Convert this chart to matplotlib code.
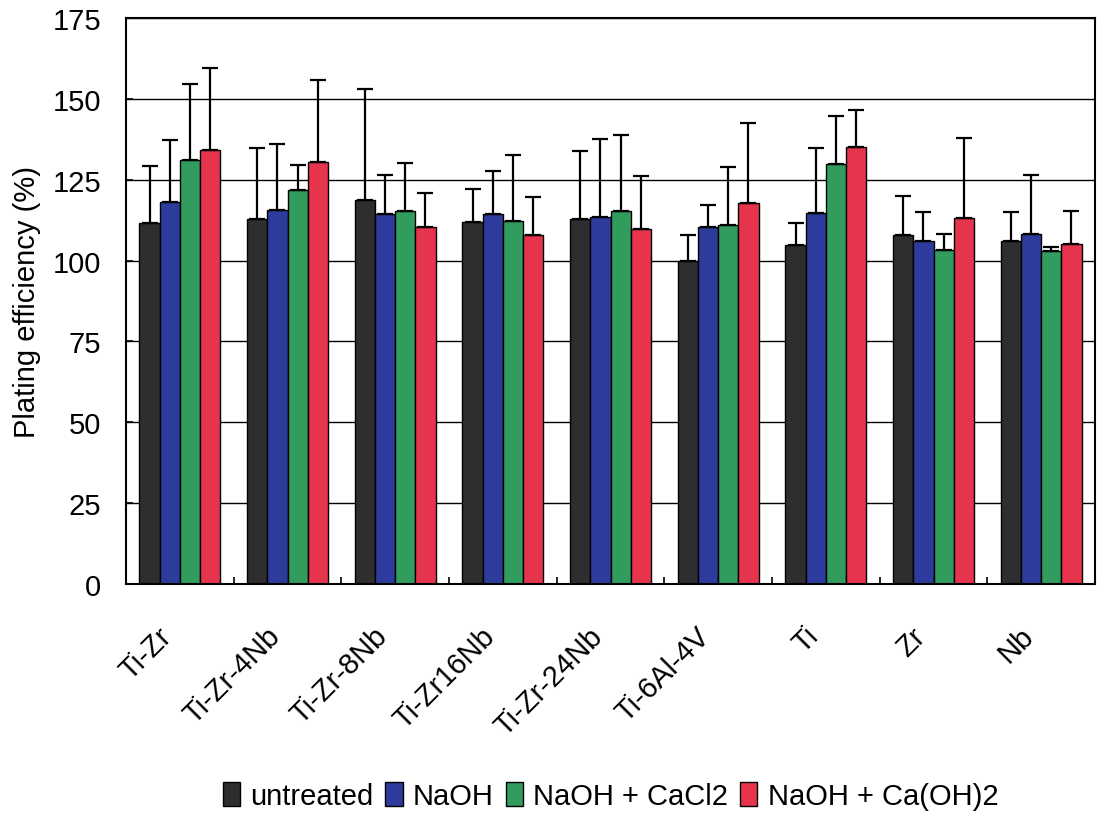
import numpy as np
import matplotlib.pyplot as plt
from matplotlib.transforms import ScaledTranslation

plt.rcParams['font.family'] = ['Liberation Sans', 'DejaVu Sans']

# Datos
alloys = ['Ti-Zr', 'Ti-Zr-4Nb', 'Ti-Zr-8Nb', 'Ti-Zr16Nb', 'Ti-Zr-24Nb',
          'Ti-6Al-4V', 'Ti', 'Zr', 'Nb']
treatments = ['untreated', 'NaOH', 'NaOH + CaCl2', 'NaOH + Ca(OH)2']
colors = ['#2e2e30', '#2d3c9c', '#319c5e', '#e5344c']

# valor medio de cada barra
untreated = [111.5, 112.7, 118.7, 111.8, 113.0, 99.9, 104.7, 107.8, 105.9]
naoh = [118.1, 115.6, 114.3, 114.3, 113.5, 110.3, 114.6, 105.9, 108.2]
naoh_cacl2 = [131.2, 121.8, 115.4, 112.2, 115.2, 110.9, 129.8, 103.3, 103.1]
naoh_caoh2 = [134.3, 130.5, 110.5, 107.9, 109.8, 117.7, 135.0, 113.3, 105.0]

# extremo superior de la barra de error
untreated_top = [129.1, 134.7, 153.2, 122.1, 134.0, 107.8, 111.5, 120.0, 114.9]
naoh_top = [137.2, 135.9, 126.5, 127.7, 137.6, 117.1, 134.9, 114.9, 126.6]
naoh_cacl2_top = [154.6, 129.7, 130.2, 132.6, 138.8, 128.9, 144.8, 108.3, 104.2]
naoh_caoh2_top = [159.5, 155.7, 120.9, 119.7, 126.3, 142.4, 146.6, 137.8, 115.4]

means = [untreated, naoh, naoh_cacl2, naoh_caoh2]
tops = [untreated_top, naoh_top, naoh_cacl2_top, naoh_caoh2_top]

fig = plt.figure(figsize=(10.97, 8.2), dpi=100)
ax = fig.add_axes([126 / 1097, 1 - 585 / 820, (1095 - 126) / 1097, (585 - 19) / 820])

x = np.arange(len(alloys))
width = 0.1875

# Líneas de la cuadrícula detrás de las barras
ax.set_axisbelow(True)
ax.yaxis.grid(True, color='black', linewidth=1.0)

for i, (vals, upper) in enumerate(zip(means, tops)):
    vals = np.array(vals)
    err = np.array(upper) - vals
    pos = x + (i - 1.5) * width
    ax.bar(pos, vals, width, color=colors[i], edgecolor='black', linewidth=1.0,
           label=treatments[i],
           yerr=[np.zeros_like(err), err],
           error_kw=dict(ecolor='black', elinewidth=1.6, capsize=5.5, capthick=1.6))

ax.set_xlim(-0.5, len(alloys) - 0.5)
ax.set_ylim(0, 175)
ax.set_yticks(np.arange(0, 176, 25))

ax.set_xticks(x)
ax.set_xticklabels(alloys, rotation=45, ha='right', va='top', rotation_mode='anchor', fontsize=21)
ax.set_xticks(np.arange(-0.5, len(alloys), 1), minor=True)
ax.tick_params(axis='x', which='major', length=0, pad=27)
ax.tick_params(axis='x', which='minor', direction='in', length=5, width=1.2)
ax.tick_params(axis='y', direction='in', length=5, width=1.2, labelsize=21, pad=18)

# desplazamos las etiquetas un poco a la izquierda
shift = ScaledTranslation(-22 / 100, 0, fig.dpi_scale_trans)
for lab in ax.get_xticklabels():
    lab.set_transform(lab.get_transform() + shift)

for s in ax.spines.values():
    s.set_linewidth(1.5)

ax.set_ylabel('Plating efficiency (%)', fontsize=21, labelpad=8)

ax.legend(loc='center', bbox_to_anchor=(0.5, -(797 - 585) / 566),
          ncol=4, frameon=False, fontsize=21, handlelength=0.6, handleheight=0.9,
          handletextpad=0.35, columnspacing=0.4, borderaxespad=0)

fig.savefig('out.png', dpi=100)
